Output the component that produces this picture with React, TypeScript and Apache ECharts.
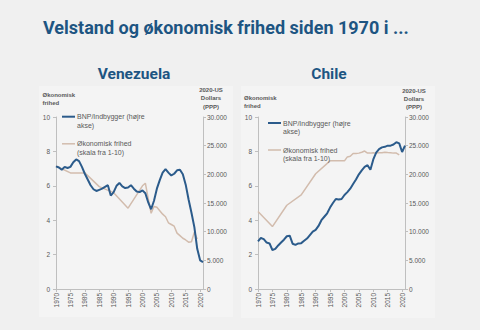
import React, { useEffect, useRef } from "react";
import * as echarts from "echarts";

const years = [
  "1970","1971","1972","1973","1974","1975","1976","1977","1978","1979",
  "1980","1981","1982","1983","1984","1985","1986","1987","1988","1989",
  "1990","1991","1992","1993","1994","1995","1996","1997","1998","1999",
  "2000","2001","2002","2003","2004","2005","2006","2007","2008","2009",
  "2010","2011","2012","2013","2014","2015","2016","2017","2018","2019",
  "2020","2021",
];

// Venezuela: GDP per capita (2020 US$ PPP, right axis)
const veGdp = [
  21400, 21200, 20800, 21300, 21100, 21300, 22100, 22600, 22300, 21300,
  20100, 19100, 18100, 17400, 17100, 17300, 17500, 17800, 18100, 16300,
  16900, 18000, 18500, 17900, 17600, 17700, 18100, 17500, 17000, 16900,
  17200, 16700, 15100, 13900, 15400, 17500, 19000, 20300, 20900, 20300,
  19800, 20100, 20700, 20800, 20000, 18200, 15600, 13300, 10800, 7000,
  5000, 4700,
];
// Venezuela: economic freedom (scale 1-10, left axis); 5-yearly before 2000
const veFreedom = [
  7.15, null, null, null, null, 6.75, null, null, null, null,
  6.75, null, null, null, null, 5.95, null, null, null, null,
  5.6, null, null, null, null, 4.7, null, null, null, null,
  6.0, 6.15, 5.25, 4.4, 4.8, 4.75, 4.55, 4.35, 4.2, 3.85,
  3.75, 3.65, 3.25, 3.1, 2.95, 2.85, 2.72, 2.75, 3.3, 2.9,
  null, null,
];

// Chile: GDP per capita (2020 US$ PPP, right axis)
const clGdp = [
  8300, 8900, 8700, 8100, 7950, 6800, 7000, 7600, 8100, 8600,
  9200, 9300, 7900, 7700, 7950, 8000, 8400, 8800, 9400, 10000,
  10300, 11000, 12000, 12600, 13200, 14200, 15000, 15700, 15600, 15700,
  16400, 16900, 17500, 18300, 19100, 20000, 20700, 21300, 21600, 20800,
  22600, 23800, 24400, 24700, 24800, 25000, 25000, 25200, 25600, 25400,
  23900, 25000,
];
// Chile: economic freedom (scale 1-10, left axis)
const clFreedom = [
  4.5, null, null, null, null, 3.63, null, null, null, null,
  4.87, null, null, null, null, 5.47, null, null, null, null,
  6.7, null, null, null, null, 7.45, null, null, null, null,
  7.45, 7.68, 7.72, 7.88, 7.88, 7.9, 7.95, 8.02, 7.9, 7.9,
  7.92, 7.9, 7.92, 7.92, 7.95, 7.93, 7.92, 7.9, 7.9, 7.8,
  null, null,
];

const mainTitle = "Velstand og økonomisk frihed siden 1970 i ...";
const countries = ["Venezuela", "Chile"];
const gdpName = "BNP/Indbygger (højre\nakse)";
const freedomName = "Økonomisk frihed\n(skala fra 1-10)";
const leftAxisTitle = "Økonomisk\nfrihed";
const rightAxisTitle = "2020-US\nDollars\n(PPP)";

const BLUE = "#2b5b8b";
const TAN = "#d2bcad";
const TITLE = "#1d5582";
const AXIS = "#bfbfbf";
const LABEL = "#595959";
const FONT = "'Liberation Sans', Arial, sans-serif";

const fmt = (v: number) =>
  v === 0 ? "0" : String(v).replace(/\B(?=(\d{3})+(?!\d))/g, ".");

export default function App() {
  const ref = useRef<HTMLDivElement>(null);

  useEffect(() => {
    if (!ref.current) return;
    const chart = echarts.init(ref.current, undefined, { renderer: "svg" });

    const grids = [
      { left: 56, top: 117, width: 147, height: 172 },
      { left: 258, top: 117, width: 147, height: 172 },
    ];

    const xAxes = grids.map((_, i) => ({
      type: "category",
      gridIndex: i,
      data: years,
      boundaryGap: false,
      axisLine: { lineStyle: { color: AXIS, width: 1 } },
      axisTick: { interval: 4, length: 3, lineStyle: { color: AXIS } },
      axisLabel: {
        interval: 4,
        rotate: 90,
        fontSize: 6.5,
        color: LABEL,
        fontFamily: FONT,
        margin: 4,
      },
      splitLine: { show: false },
    }));

    const yAxes: any[] = [];
    grids.forEach((_, i) => {
      yAxes.push({
        type: "value",
        gridIndex: i,
        position: "left",
        min: 0,
        max: 10,
        interval: 2,
        axisLine: { show: true, lineStyle: { color: AXIS } },
        axisTick: { show: true, length: 3, lineStyle: { color: AXIS } },
        axisLabel: { fontSize: 6.5, color: LABEL, fontFamily: FONT, margin: 6 },
        splitLine: { show: false },
      });
      yAxes.push({
        type: "value",
        gridIndex: i,
        position: "right",
        min: 0,
        max: 30000,
        interval: 5000,
        axisLine: { show: true, lineStyle: { color: AXIS } },
        axisTick: { show: true, length: 3, lineStyle: { color: AXIS } },
        axisLabel: {
          fontSize: 6.5,
          color: LABEL,
          fontFamily: FONT,
          margin: 4,
          formatter: (v: number) => fmt(v),
        },
        splitLine: { show: false },
      });
    });

    const seriesData = [
      { gdp: veGdp, fr: veFreedom },
      { gdp: clGdp, fr: clFreedom },
    ];
    const series: any[] = [];
    seriesData.forEach((d, i) => {
      series.push({
        name: "Økonomisk frihed",
        type: "line",
        xAxisIndex: i,
        yAxisIndex: i * 2,
        data: d.fr,
        connectNulls: true,
        showSymbol: false,
        symbol: "none",
        lineStyle: { color: TAN, width: 1.5 },
        z: 2,
      });
      series.push({
        name: "BNP/Indbygger",
        type: "line",
        xAxisIndex: i,
        yAxisIndex: i * 2 + 1,
        data: d.gdp,
        showSymbol: false,
        symbol: "none",
        lineStyle: { color: BLUE, width: 2 },
        z: 3,
      });
    });

    const textEl = (
      text: string,
      x: number,
      y: number,
      opts: any = {}
    ) => ({
      type: "text",
      x,
      y,
      z: 100,
      style: {
        text,
        fill: opts.fill || LABEL,
        fontSize: opts.fontSize || 7,
        fontFamily: opts.fontFamily || FONT,
        fontWeight: opts.fontWeight || "normal",
        align: opts.align || "left",
        verticalAlign: opts.verticalAlign || "top",
        lineHeight: opts.lineHeight || 8.5,
      },
    });

    const legendEls = (lx: number, yBlue: number, yTan: number) => [
      {
        type: "line",
        z: 100,
        shape: { x1: lx, y1: yBlue, x2: lx + 13, y2: yBlue },
        style: { stroke: BLUE, lineWidth: 2 },
      },
      textEl(gdpName, lx + 15, yBlue - 4.25, { fontSize: 7 }),
      {
        type: "line",
        z: 100,
        shape: { x1: lx, y1: yTan, x2: lx + 13, y2: yTan },
        style: { stroke: TAN, lineWidth: 1.5 },
      },
      textEl(freedomName, lx + 15, yTan - 4.25, { fontSize: 7 }),
    ];

    const graphic: any[] = [
      {
        type: "rect",
        z: -10,
        shape: { x: 39, y: 86, width: 194, height: 231 },
        style: { fill: "#f4f4f4" },
      },
      {
        type: "rect",
        z: -10,
        shape: { x: 241, y: 86, width: 194, height: 232 },
        style: { fill: "#f4f4f4" },
      },
      textEl(mainTitle, 43, 27, {
        fontSize: 18,
        fontWeight: "bold",
        fontFamily: "Roboto, 'Noto Sans', sans-serif",
        fill: TITLE,
        verticalAlign: "middle",
        lineHeight: 20,
      }),
      textEl(countries[0], 134, 73.5, {
        fontSize: 15.5,
        fontWeight: "bold",
        fontFamily: "Roboto, 'Noto Sans', sans-serif",
        fill: TITLE,
        align: "center",
        verticalAlign: "middle",
        lineHeight: 18,
      }),
      textEl(countries[1], 329, 73.5, {
        fontSize: 15.5,
        fontWeight: "bold",
        fontFamily: "Roboto, 'Noto Sans', sans-serif",
        fill: TITLE,
        align: "center",
        verticalAlign: "middle",
        lineHeight: 18,
      }),
      textEl(leftAxisTitle, 42.5, 91.5, { fontSize: 6, fontWeight: "bold", lineHeight: 7.5 }),
      textEl(leftAxisTitle, 244, 94.5, { fontSize: 6, fontWeight: "bold", lineHeight: 7.5 }),
      textEl(rightAxisTitle, 211, 86, {
        fontSize: 6,
        fontWeight: "bold",
        align: "center",
        lineHeight: 8.3,
      }),
      textEl(rightAxisTitle, 414, 86.5, {
        fontSize: 6,
        fontWeight: "bold",
        align: "center",
        lineHeight: 8.3,
      }),
      ...legendEls(62, 116.7, 143.8),
      ...legendEls(268, 123, 150),
    ];

    chart.setOption({
      animation: false,
      backgroundColor: "#f0f0f0",
      grid: grids,
      xAxis: xAxes,
      yAxis: yAxes,
      series,
      graphic,
    });

    return () => chart.dispose();
  }, []);

  return (
    <div
      ref={ref}
      style={{ position: "absolute", left: 0, top: 0, width: 480, height: 330 }}
    />
  );
}
